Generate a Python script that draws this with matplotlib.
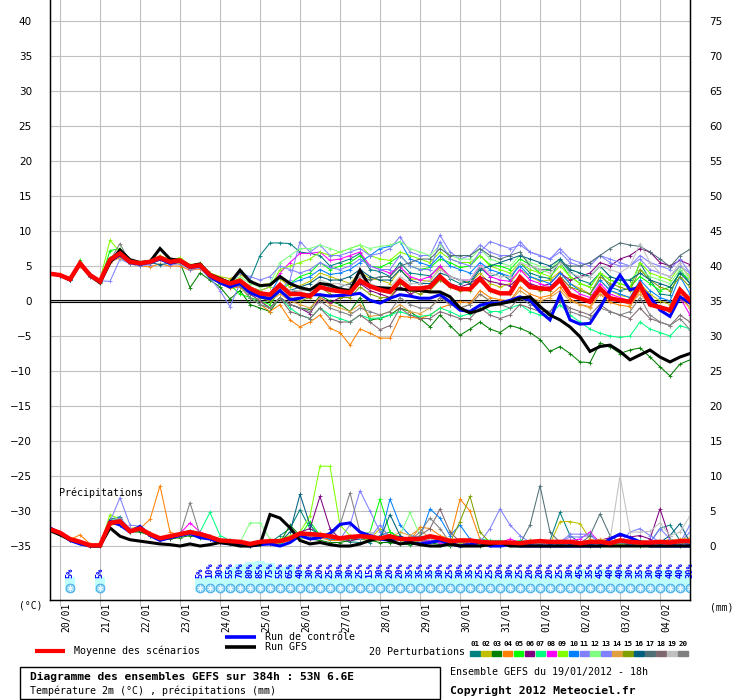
import matplotlib
matplotlib.use("Agg")
import matplotlib.pyplot as plt
import numpy as np
from matplotlib.lines import Line2D
from matplotlib.patches import Rectangle

# GEFS run of 19/01/2012 18h, one value every 6 hours up to 384h
lead_hours = np.arange(0, 385, 6)
date_labels = ["20/01", "21/01", "22/01", "23/01", "24/01", "25/01", "26/01", "27/01",
               "28/01", "29/01", "30/01", "31/01", "01/02", "02/02", "03/02", "04/02"]

member_names = ["01", "02", "03", "04", "05", "06", "07", "08", "09", "10",
                "11", "12", "13", "14", "15", "16", "17", "18", "19", "20"]
member_colors = ["#008080", "#c0c000", "#008000", "#ff8000", "#00ff00", "#800080", "#00ff80",
                 "#ff00ff", "#80ff00", "#0080ff", "#8080ff", "#80ff80", "#8080ff", "#e0a040",
                 "#80a000", "#006080", "#507078", "#806870", "#c0c0c0", "#808080"]

# 2m temperature (°C)
temp_mean = [3.9, 3.7, 3.1, 5.4, 3.7, 2.8, 5.9, 6.8, 5.6, 5.4, 5.6, 6.2, 5.6, 5.8, 4.9, 5.1,
             3.7, 3.0, 2.5, 2.9, 1.8, 1.1, 0.9, 2.3, 1.0, 1.0, 0.7, 2.0, 1.6, 1.4, 1.2, 2.9,
             2.1, 1.6, 1.3, 2.9, 1.8, 1.8, 2.0, 3.5, 2.2, 1.7, 1.7, 3.2, 1.6, 1.1, 1.1, 3.4,
             2.0, 1.8, 1.7, 3.0, 0.9, 0.4, -0.1, 1.8, 0.4, 0.1, -0.1, 2.3, -0.5, -0.9, -1.3, 1.6, 0.1]
temp_control = [3.9, 3.7, 3.0, 5.3, 3.8, 2.7, 5.7, 6.6, 5.5, 5.3, 5.5, 6.0, 5.4, 5.7, 4.8, 5.0,
                3.5, 2.6, 2.0, 2.5, 1.2, 0.6, 0.3, 1.5, 0.2, 0.4, 0.9, 0.9, 0.7, 0.8, 0.9, 1.1,
                0.1, -0.3, 0.4, 0.9, 0.7, 0.4, 0.4, 0.9, -0.1, -1.3, -1.5, -0.6, -0.3, -0.3, 0.1, 0.6,
                0.1, -1.5, -2.7, 0.9, -2.7, -3.3, -3.2, -1.0, 1.6, 3.7, 1.6, 2.0, 0.6, -1.3, -2.2, 0.6, -0.3]
temp_gfs = [3.9, 3.7, 3.0, 5.3, 3.6, 2.6, 5.5, 7.3, 5.9, 5.5, 5.6, 7.5, 6.0, 5.8, 5.0, 5.3,
            3.8, 3.2, 2.6, 4.4, 2.8, 2.2, 2.3, 3.5, 2.5, 1.9, 1.6, 2.5, 2.3, 1.7, 1.5, 4.4,
            2.0, 1.9, 1.8, 1.7, 1.6, 1.5, 1.3, 1.3, 0.6, -1.0, -1.7, -1.3, -0.6, -0.4, -0.1, 0.4,
            0.6, -0.8, -2.0, -2.7, -3.7, -5.1, -7.2, -6.5, -6.3, -7.2, -8.4, -7.7, -7.0, -8.0, -8.7, -8.0, -7.5]

t01 = [3.8, 3.6, 3.0, 5.2, 3.9, 3.0, 6.2, 7.0, 5.5, 5.6, 5.8, 6.0, 5.3, 5.5, 4.6, 4.8,
       3.2, 2.6, 2.2, 4.4, 3.0, 6.5, 8.3, 8.3, 8.2, 7.0, 6.8, 6.5, 5.0, 5.5, 6.0, 6.8,
       4.5, 4.2, 3.5, 5.5, 4.0, 3.8, 3.6, 5.0, 3.2, 2.5, 2.8, 4.8, 3.5, 4.0, 3.0, 5.5,
       4.0, 3.5, 3.2, 5.8, 4.2, 3.0, 2.5, 4.0, 2.0, 1.5, 1.8, 5.5, 3.0, 1.0, 0.8, 4.5, 2.5]
t02 = [3.9, 3.7, 3.2, 5.6, 3.8, 2.9, 6.1, 7.2, 5.8, 5.5, 5.7, 6.5, 5.9, 6.1, 5.2, 5.4,
       4.0, 3.5, 3.2, 3.8, 2.9, 2.3, 2.5, 3.2, 2.0, 2.2, 2.8, 4.0, 3.5, 3.0, 2.5, 4.2,
       3.2, 3.0, 2.5, 4.5, 3.2, 3.0, 2.8, 4.8, 3.5, 3.0, 2.6, 4.0, 2.5, 2.0, 2.5, 4.5,
       3.5, 2.8, 3.0, 4.2, 2.5, 1.8, 1.0, 3.0, 1.5, 0.8, 0.5, 2.5, 1.0, 0.0, -0.5, 1.5, 0.5]
t03 = [3.8, 3.6, 3.1, 5.3, 3.6, 2.6, 5.7, 6.6, 5.4, 5.2, 5.5, 6.0, 5.4, 5.5, 1.9, 4.0,
       3.0, 2.0, 0.3, 1.5, -0.5, -1.0, -1.5, 0.5, -0.5, -1.0, -1.2, 0.8, 0.0, -0.5, -1.5, 0.5,
       -2.7, -2.5, -2.0, -1.0, -1.5, -2.5, -3.7, -2.0, -3.5, -4.9, -4.0, -3.0, -4.0, -4.5, -3.5, -3.9,
       -4.5, -5.5, -7.2, -6.5, -7.5, -8.7, -8.8, -6.0, -6.5, -7.5, -7.0, -6.7, -8.0, -9.4, -10.7, -9.0, -8.4]
t04 = [3.9, 3.8, 3.4, 5.0, 3.5, 2.8, 5.6, 6.3, 5.3, 5.0, 4.9, 5.3, 5.0, 5.0, 4.4, 4.6,
       3.6, 2.5, 1.8, 2.0, 0.5, -0.5, -1.5, -0.5, -2.7, -3.7, -3.0, -2.0, -3.9, -4.5, -6.3, -4.0,
       -4.6, -5.3, -5.3, -2.2, -2.3, -2.5, -2.0, -1.0, -0.5, -0.1, -0.3, 1.5, 0.5, 0.2, 0.0, 2.0,
       1.0, 0.5, 0.8, 2.0, 0.3, -0.5, -0.8, 1.0, -0.2, -0.6, -0.8, 1.5, -0.5, -1.0, -1.5, 0.8, -1.0]
t05 = [3.9, 3.7, 3.0, 5.8, 3.8, 2.7, 7.2, 7.5, 5.7, 5.4, 5.6, 6.3, 5.7, 6.0, 5.0, 5.0,
       3.8, 2.5, 2.3, 1.0, 0.5, 0.0, -0.5, 1.5, 2.5, 3.5, 4.0, 5.5, 4.5, 5.0, 5.5, 6.5,
       5.0, 4.8, 5.5, 6.5, 5.0, 4.5, 4.8, 6.0, 5.5, 4.8, 5.0, 6.5, 5.2, 5.0, 4.5, 6.0,
       5.2, 4.0, 4.5, 5.5, 3.5, 2.5, 2.0, 4.0, 3.0, 2.5, 2.0, 3.5, 2.5, 1.5, 2.0, 4.0, 3.0]
t06 = [3.8, 3.6, 3.1, 5.4, 3.7, 2.9, 5.8, 6.7, 5.6, 5.4, 5.5, 6.1, 5.5, 5.7, 4.8, 5.0,
       3.5, 2.6, 2.0, 2.2, 1.0, 0.0, -1.0, 0.5, -0.5, -1.0, -1.8, 0.5, -0.3, 0.5, 1.0, 2.5,
       1.5, 1.0, 0.5, 2.0, 1.0, 1.5, 2.0, 3.0, 2.5, 2.0, 2.5, 3.5, 2.8, 2.5, 2.2, 3.5,
       2.5, 2.0, 2.5, 4.0, 3.0, 3.5, 4.0, 5.5, 5.0, 6.0, 6.5, 7.5, 7.0, 5.5, 5.0, 5.8, 5.2]
t07 = [3.9, 3.7, 3.2, 5.4, 3.5, 2.8, 6.0, 6.7, 5.5, 5.3, 5.4, 6.0, 5.4, 5.6, 4.8, 4.9,
       3.5, 2.8, 2.0, 2.3, 0.5, -0.5, -1.0, 0.5, -1.0, -2.0, -2.5, -1.0, -2.0, -2.5, -3.0, -2.0,
       -2.5, -2.4, -2.0, -1.5, -2.0, -2.2, -2.0, -1.0, -1.5, -2.2, -1.8, -0.5, -1.5, -1.5, -1.0, -0.5,
       -1.5, -2.0, -2.0, -0.5, -2.0, -3.0, -4.0, -4.6, -5.0, -5.2, -5.0, -3.0, -4.0, -4.5, -5.0, -3.5, -4.0]
t08 = [3.9, 3.7, 3.1, 5.4, 3.8, 2.9, 5.9, 6.9, 5.7, 5.5, 5.6, 6.3, 5.7, 5.9, 5.0, 5.2,
       3.8, 3.0, 2.5, 3.0, 2.0, 1.5, 2.0, 4.0, 5.5, 6.8, 6.8, 7.0, 5.8, 6.0, 6.5, 7.0,
       5.0, 4.5, 4.0, 4.9, 3.5, 3.0, 3.5, 5.0, 3.5, 3.0, 3.0, 5.1, 3.5, 3.0, 2.8, 4.5,
       3.0, 2.5, 2.0, 3.5, 2.0, 1.0, 0.5, 2.5, 1.0, 0.5, 0.0, 2.0, 0.0, -1.0, -1.5, 0.5, -2.0]
t09 = [4.0, 3.8, 3.2, 5.5, 3.9, 3.0, 8.7, 7.0, 5.9, 5.6, 5.8, 6.4, 5.8, 6.2, 5.1, 5.3,
       4.0, 3.3, 2.8, 3.2, 2.0, 1.5, 2.0, 4.5, 5.0, 5.5, 6.0, 7.0, 6.5, 7.0, 7.5, 8.0,
       6.5, 6.0, 5.8, 7.0, 6.5, 6.0, 5.5, 7.0, 6.0, 5.5, 5.5, 6.5, 5.0, 4.5, 4.0, 5.5,
       4.5, 4.0, 3.5, 5.0, 3.5, 2.5, 2.0, 4.0, 3.0, 2.5, 2.0, 5.5, 4.0, 3.5, 3.0, 5.0, 3.5]
t10 = [3.9, 3.6, 3.0, 5.3, 3.7, 2.8, 6.0, 6.9, 5.6, 5.4, 5.5, 6.2, 5.5, 5.7, 4.8, 5.0,
       3.6, 2.8, 2.3, 2.7, 1.5, 0.8, 1.0, 3.5, 2.5, 3.0, 3.5, 4.5, 3.8, 4.0, 4.5, 5.5,
       6.5, 7.5, 7.8, 8.5, 6.0, 5.5, 5.0, 6.5, 5.0, 4.5, 4.0, 5.5, 4.5, 4.0, 3.5, 5.0,
       3.5, 3.0, 2.5, 4.0, 2.5, 1.5, 1.0, 3.0, 1.5, 1.0, 0.5, 3.0, 1.5, 0.5, 0.0, 3.5, 1.0]
t11 = [3.8, 3.6, 3.0, 5.2, 3.5, 2.9, 2.8, 6.0, 5.3, 5.0, 5.2, 5.9, 5.2, 5.3, 4.5, 4.7,
       3.3, 1.5, -0.8, 2.5, 1.5, 0.5, 1.0, 1.5, 3.0, 8.5, 7.0, 8.0, 6.5, 6.5, 7.0, 7.5,
       6.5, 6.8, 7.5, 9.2, 7.0, 6.5, 6.5, 9.4, 7.0, 6.0, 6.5, 8.0, 7.0, 6.5, 6.5, 8.5,
       7.0, 6.5, 6.0, 7.5, 6.0, 5.5, 5.0, 6.5, 5.5, 5.0, 5.0, 6.0, 4.5, 4.0, 3.5, 5.0, 4.0]
t12 = [3.9, 3.7, 3.1, 5.5, 3.8, 2.9, 6.2, 7.1, 5.8, 5.6, 5.7, 6.3, 5.7, 6.0, 5.0, 5.2,
       3.8, 3.2, 2.8, 3.5, 2.5, 2.0, 2.5, 5.5, 6.5, 7.5, 7.5, 8.0, 7.5, 7.0, 7.5, 8.0,
       7.5, 7.8, 8.0, 8.5, 7.5, 7.0, 6.5, 8.0, 6.5, 6.0, 6.0, 7.5, 6.0, 5.5, 5.0, 6.5,
       5.5, 5.0, 4.5, 6.0, 4.5, 4.0, 3.5, 5.0, 3.5, 3.0, 3.0, 4.5, 3.5, 3.0, 2.5, 4.5, 3.0]
t13 = [3.9, 3.7, 3.2, 5.4, 3.6, 2.7, 5.7, 6.6, 5.4, 5.2, 5.4, 6.0, 5.4, 5.6, 4.7, 4.9,
       3.4, 2.6, 2.5, 4.0, 3.5, 3.0, 3.5, 5.0, 4.5, 4.0, 4.5, 5.5, 4.8, 4.5, 5.0, 6.0,
       5.0, 4.5, 4.5, 6.5, 5.0, 4.5, 4.5, 8.5, 6.0, 5.5, 5.0, 7.0, 8.5, 8.0, 7.5, 8.0,
       7.0, 6.5, 6.0, 7.0, 5.5, 5.0, 5.5, 6.5, 6.0, 5.5, 5.0, 6.5, 5.5, 5.0, 4.5, 6.0, 4.0]
t14 = [4.0, 3.8, 3.2, 5.0, 3.8, 2.9, 5.5, 6.2, 5.4, 5.3, 5.4, 5.8, 5.4, 5.4, 4.7, 4.8,
       3.4, 2.8, 2.5, 3.0, 1.5, 0.5, 0.0, 1.0, 0.0, -0.5, -1.0, 0.5, -0.5, -1.0, -1.5, -0.5,
       -2.2, -2.0, -1.5, -0.5, -1.5, -1.8, -1.0, 0.5, -0.5, -1.0, -0.5, 1.0, 0.0, -0.5, 0.0, 1.5,
       0.5, 0.0, 0.5, 1.5, 0.0, -0.5, -1.0, 1.0, 0.5, 0.0, -0.5, 1.0, -0.5, -1.0, -1.5, 0.5, -1.0]
t15 = [3.9, 3.7, 3.1, 5.4, 3.7, 2.8, 6.0, 6.8, 5.6, 5.4, 5.6, 6.2, 5.6, 5.8, 4.9, 5.1,
       3.7, 3.0, 2.3, 2.5, 1.2, 0.5, 0.0, 1.5, 0.5, 0.0, 0.5, 2.0, 1.0, 0.5, 0.5, 2.0,
       1.0, 0.5, 0.5, 2.5, 1.5, 1.0, 1.5, 3.0, 2.0, 1.5, 1.5, 3.0, 1.5, 1.0, 1.0, 3.0,
       2.0, 1.5, 1.5, 3.5, 2.0, 1.5, 1.0, 3.5, 2.5, 2.0, 1.5, 4.5, 3.0, 2.0, 1.5, 3.5, 2.0]
t16 = [3.8, 3.6, 3.0, 5.3, 3.6, 2.7, 5.8, 6.6, 5.4, 5.2, 5.5, 5.2, 5.4, 5.6, 4.8, 5.0,
       3.4, 2.6, 2.2, 2.8, 1.5, 0.8, 0.5, 2.0, 1.5, 2.0, 2.5, 3.5, 3.0, 3.0, 3.5, 4.5,
       3.5, 3.0, 3.0, 4.5, 3.0, 2.5, 2.5, 4.0, 3.5, 3.0, 2.5, 4.5, 5.0, 5.5, 6.0, 6.5,
       6.0, 5.5, 5.0, 6.0, 4.5, 4.0, 3.5, 5.0, 3.5, 3.0, 3.0, 4.0, 3.0, 2.5, 2.0, 4.0, 2.5]
t17 = [3.9, 3.7, 3.1, 5.3, 3.7, 2.8, 5.9, 6.8, 5.6, 5.4, 5.5, 6.1, 5.5, 5.7, 4.8, 5.0,
       3.6, 2.9, 2.4, 2.8, 1.7, 1.0, 0.8, 2.2, 1.5, 1.2, 1.0, 2.5, 2.0, 2.0, 2.5, 3.5,
       3.0, 3.5, 3.5, 5.0, 5.5, 6.0, 6.0, 7.5, 6.5, 6.5, 6.5, 7.5, 6.5, 6.0, 6.5, 7.0,
       5.0, 4.5, 4.5, 5.5, 5.0, 5.0, 5.5, 6.5, 7.5, 8.3, 8.0, 7.8, 7.0, 6.0, 4.9, 6.5, 7.4]
t18 = [3.9, 3.7, 3.1, 5.4, 3.7, 2.8, 5.9, 6.7, 5.6, 5.3, 5.5, 6.1, 5.5, 5.7, 4.8, 5.0,
       3.5, 2.8, 2.2, 2.5, 1.0, 0.0, -1.0, 0.5, -1.5, -2.0, -2.5, -1.0, -2.5, -3.0, -3.0, -2.0,
       -3.0, -4.1, -3.5, -1.0, -2.0, -2.5, -2.5, -1.5, -2.0, -2.5, -2.5, -1.0, -2.0, -2.5, -2.0, -0.5,
       -1.0, -1.5, -1.5, 0.0, -1.0, -1.5, -2.0, -0.5, -1.5, -2.0, -2.5, -1.0, -2.5, -3.0, -3.5, -2.0, -3.0]
t19 = [3.9, 3.7, 3.1, 5.4, 3.7, 2.8, 5.9, 6.8, 5.6, 5.4, 5.6, 6.2, 5.6, 5.8, 4.9, 5.1,
       3.7, 3.0, 2.5, 3.0, 1.8, 1.2, 1.0, 2.5, 1.5, 1.5, 1.5, 3.0, 2.5, 2.5, 2.0, 3.5,
       2.5, 2.0, 2.0, 3.5, 2.5, 2.5, 3.0, 4.5, 3.5, 3.0, 3.0, 5.0, 4.0, 3.5, 3.5, 5.5,
       5.0, 4.5, 4.0, 5.5, 4.0, 3.5, 3.5, 5.0, 4.5, 4.0, 5.0, 8.2, 5.5, 4.0, 3.5, 5.5, 3.0]
t20 = [3.9, 3.7, 3.1, 5.3, 3.6, 2.7, 5.8, 8.2, 5.5, 5.4, 5.5, 6.1, 5.5, 5.7, 4.8, 5.0,
       3.4, 2.7, 2.0, 2.2, 0.5, -0.5, -1.0, 0.5, -0.5, -1.0, -1.5, 0.0, -1.0, -1.5, -2.0, -1.0,
       -1.5, -2.0, -1.5, 0.5, -0.5, -1.0, -1.0, 0.5, -0.5, -1.0, -0.5, 1.0, 0.0, -0.5, -1.0, 0.5,
       -0.5, -1.0, -1.5, 0.5, -1.5, -2.0, -2.5, -1.0, -1.5, -2.0, -1.5, 0.5, -2.0, -3.0, -3.5, -2.5, -4.1]

# precipitation (mm per step)
rain_mean = [2.4, 1.9, 1.0, 0.6, 0.1, 0.1, 3.3, 3.5, 2.1, 2.5, 1.7, 1.1, 1.4, 1.7, 2.0, 1.7,
             1.3, 0.8, 0.7, 0.6, 0.3, 0.6, 0.7, 0.7, 1.1, 1.8, 1.7, 1.6, 1.4, 1.1, 1.3, 1.4,
             1.3, 1.1, 1.4, 1.0, 1.0, 1.0, 1.4, 1.1, 0.7, 0.8, 0.8, 0.6, 0.5, 0.5, 0.5, 0.4,
             0.6, 0.7, 0.6, 0.6, 0.6, 0.4, 0.6, 0.6, 0.4, 0.8, 0.6, 0.5, 0.5, 0.6, 0.5, 0.7, 0.7]
rain_control = [2.6, 1.8, 0.8, 0.3, 0.0, 0.0, 3.5, 3.0, 2.0, 2.8, 1.5, 0.8, 1.2, 1.5, 1.8, 1.2,
                1.0, 0.5, 0.3, 0.2, 0.0, 0.2, 0.3, 0.0, 0.5, 1.5, 1.0, 1.2, 1.8, 3.1, 3.3, 2.0,
                1.5, 1.0, 0.8, 1.2, 0.5, 0.3, 0.5, 0.8, 0.3, 0.0, 0.2, 0.5, 0.0, 0.0, 0.2, 0.0,
                0.0, 0.0, 0.0, 0.0, 0.0, 0.0, 0.0, 0.0, 1.0, 1.7, 1.2, 0.6, 0.0, 0.0, 0.0, 0.0, 0.0]
rain_gfs = [2.2, 1.6, 0.9, 0.6, 0.0, 0.0, 2.6, 1.4, 0.9, 0.7, 0.5, 0.3, 0.2, 0.0, 0.3, 0.0,
            0.2, 0.5, 0.3, 0.0, 0.0, 0.2, 4.5, 4.0, 2.6, 0.8, 0.3, 0.5, 0.2, 0.0, 0.0, 0.3,
            0.8, 1.2, 0.8, 0.3, 0.5, 0.2, 0.0, 0.0, 0.3, 0.0, 0.0, 0.0, 0.2, 0.5, 0.0, 0.0,
            0.0, 0.0, 0.0, 0.0, 0.0, 0.0, 0.0, 0.0, 0.0, 0.0, 0.0, 0.0, 0.0, 0.0, 0.0, 0.0, 0.0]

r01 = [2.5, 1.7, 0.8, 0.4, 0.0, 0.0, 3.8, 4.2, 2.0, 2.2, 1.5, 1.0, 1.2, 1.5, 2.2, 1.5,
       1.0, 0.5, 0.8, 0.5, 0.0, 0.3, 0.5, 1.5, 2.5, 5.2, 2.5, 1.5, 1.0, 0.8, 0.6, 0.5,
       0.5, 1.5, 2.0, 1.2, 0.5, 0.3, 0.8, 0.5, 0.2, 0.0, 0.3, 0.5, 0.2, 0.0, 0.3, 0.2,
       0.5, 0.2, 0.8, 4.8, 1.5, 0.5, 0.2, 0.5, 0.3, 0.5, 0.5, 0.2, 0.5, 2.5, 3.0, 0.8, 0.5]
r02 = [2.4, 1.9, 0.9, 0.5, 0.0, 0.0, 3.0, 3.5, 2.5, 2.8, 1.8, 1.2, 1.5, 1.8, 2.0, 1.8,
       1.5, 0.8, 0.5, 0.5, 0.3, 0.5, 0.8, 0.5, 0.8, 1.2, 1.0, 1.8, 1.5, 1.2, 1.0, 1.5,
       1.0, 2.5, 1.5, 0.8, 0.5, 0.5, 0.8, 1.0, 0.5, 0.3, 0.5, 0.8, 0.5, 0.3, 0.2, 0.5,
       0.3, 0.5, 0.3, 3.5, 3.5, 3.2, 1.0, 0.5, 0.3, 0.2, 0.5, 0.3, 0.5, 0.3, 0.5, 0.8, 0.5]
r03 = [2.5, 1.8, 1.0, 0.4, 0.0, 0.0, 3.2, 3.0, 2.0, 2.0, 1.5, 0.8, 1.0, 1.2, 1.5, 1.2,
       1.0, 0.5, 0.3, 0.2, 0.0, 0.2, 0.3, 0.5, 3.0, 1.5, 1.0, 0.8, 0.5, 0.5, 0.8, 1.0,
       0.8, 0.5, 0.5, 0.3, 0.2, 0.3, 0.5, 0.2, 0.0, 0.2, 0.3, 0.0, 0.2, 0.0, 0.3, 0.5,
       0.2, 0.0, 0.0, 0.2, 0.5, 0.3, 0.0, 0.0, 0.2, 0.0, 0.3, 0.0, 0.2, 0.5, 0.3, 0.0, 0.2]
r04 = [2.6, 1.9, 0.9, 1.6, 0.3, 0.0, 3.5, 3.8, 2.3, 2.5, 3.8, 8.6, 2.0, 1.5, 1.8, 1.5,
       1.0, 0.5, 0.5, 0.5, 0.3, 0.5, 0.5, 0.3, 0.8, 1.5, 1.0, 1.2, 0.8, 0.8, 1.0, 1.5,
       1.0, 0.8, 1.5, 1.0, 0.8, 2.7, 2.5, 1.5, 1.0, 6.7, 5.0, 1.0, 0.5, 0.5, 0.3, 0.5,
       0.3, 0.5, 0.3, 0.5, 0.3, 0.5, 0.8, 0.5, 0.3, 1.0, 0.8, 0.5, 0.3, 0.5, 1.0, 0.5, 1.0]
r05 = [2.5, 1.8, 0.8, 0.4, 0.0, 0.0, 3.3, 3.5, 2.2, 2.4, 1.6, 1.0, 1.3, 1.6, 2.0, 1.6,
       1.2, 0.6, 0.5, 0.4, 0.2, 0.5, 0.6, 0.5, 1.0, 1.5, 3.5, 1.5, 1.2, 1.0, 1.0, 1.5,
       2.0, 6.7, 2.0, 1.2, 0.8, 0.5, 0.8, 0.5, 0.5, 0.8, 0.5, 0.3, 0.5, 0.3, 0.5, 0.3,
       0.8, 0.5, 0.3, 0.5, 0.3, 0.3, 0.5, 0.3, 0.5, 0.3, 0.5, 0.5, 0.3, 0.5, 0.3, 0.5, 0.3]
r06 = [2.4, 1.8, 0.9, 0.4, 0.0, 0.0, 3.4, 3.6, 2.1, 2.3, 1.5, 1.0, 1.2, 1.4, 1.8, 1.5,
       1.0, 0.6, 0.5, 0.5, 0.2, 0.4, 0.5, 0.8, 1.2, 2.0, 2.5, 7.1, 2.5, 1.0, 0.8, 1.0,
       1.0, 0.8, 1.0, 0.8, 0.8, 0.5, 1.0, 0.8, 0.5, 0.5, 0.3, 0.5, 0.3, 0.5, 0.3, 0.5,
       0.5, 0.3, 0.5, 0.3, 0.5, 0.5, 0.3, 0.8, 1.2, 1.5, 1.3, 1.5, 1.0, 5.3, 1.0, 0.5, 1.0]
r07 = [2.5, 1.8, 0.9, 0.5, 0.0, 0.0, 3.6, 3.9, 2.3, 2.6, 1.7, 1.1, 1.5, 1.7, 2.2, 2.0,
       4.8, 1.5, 0.8, 0.5, 0.3, 0.5, 0.8, 0.5, 1.0, 1.2, 2.0, 1.5, 1.0, 1.0, 1.5, 1.0,
       1.5, 1.0, 1.2, 0.8, 0.5, 0.5, 0.8, 0.5, 0.3, 0.5, 0.5, 1.0, 0.8, 0.8, 0.5, 0.8,
       0.5, 0.8, 0.5, 0.3, 0.5, 0.5, 0.3, 0.5, 0.3, 0.5, 0.3, 0.8, 0.5, 0.3, 0.5, 0.3, 0.5]
r08 = [2.5, 1.9, 1.0, 0.5, 0.0, 0.0, 3.5, 3.7, 2.4, 2.5, 1.6, 1.2, 1.5, 1.8, 3.3, 2.0,
       1.5, 0.8, 0.6, 0.5, 0.3, 0.5, 0.5, 0.8, 1.0, 1.5, 1.8, 1.5, 1.3, 1.0, 1.2, 1.5,
       1.2, 1.0, 1.0, 0.8, 0.8, 0.5, 0.8, 0.5, 0.3, 0.5, 0.5, 0.8, 0.5, 0.5, 1.0, 0.5,
       0.5, 0.8, 0.5, 0.5, 0.8, 1.0, 2.0, 0.5, 0.3, 0.5, 0.3, 0.5, 0.3, 0.5, 0.3, 0.5, 0.3]
r09 = [2.6, 1.9, 0.9, 0.5, 0.1, 0.0, 4.5, 3.8, 2.2, 2.5, 1.8, 1.2, 1.5, 1.7, 2.0, 1.6,
       1.2, 0.7, 0.6, 0.5, 0.3, 0.5, 0.8, 1.0, 1.5, 2.0, 4.3, 11.4, 11.4, 3.0, 1.5, 1.0,
       1.0, 0.8, 1.0, 0.8, 0.8, 0.5, 0.5, 0.8, 0.5, 0.5, 0.5, 0.3, 0.5, 0.3, 0.5, 0.3,
       0.5, 0.3, 0.5, 0.3, 0.5, 0.3, 0.5, 0.8, 0.5, 0.3, 0.5, 0.3, 0.5, 0.3, 0.5, 0.3, 0.5]
r10 = [2.5, 1.8, 0.9, 0.4, 0.0, 0.0, 3.4, 3.7, 2.2, 2.4, 1.6, 1.0, 1.4, 1.6, 2.0, 1.5,
       1.2, 0.6, 0.6, 0.5, 0.2, 0.5, 0.6, 0.6, 1.0, 1.5, 1.5, 1.3, 1.0, 1.0, 1.2, 1.0,
       1.5, 1.0, 6.7, 3.0, 1.5, 1.2, 5.3, 4.0, 1.5, 3.0, 1.0, 0.5, 0.3, 0.5, 0.3, 0.5,
       0.3, 0.5, 0.3, 0.5, 0.3, 0.5, 0.3, 0.5, 0.3, 0.5, 0.3, 0.5, 0.3, 0.5, 0.3, 0.5, 0.3]
r11 = [2.4, 1.8, 0.8, 0.4, 0.0, 0.0, 3.5, 6.9, 3.0, 2.8, 1.8, 1.2, 1.5, 1.8, 2.2, 1.8,
       1.3, 0.8, 0.6, 0.5, 0.3, 0.5, 0.6, 0.6, 1.0, 1.5, 1.5, 1.4, 1.2, 1.0, 3.0, 7.9,
       5.0, 2.0, 1.5, 1.0, 0.8, 0.8, 1.0, 0.8, 0.5, 0.6, 0.6, 0.5, 2.5, 5.3, 3.0, 1.5,
       0.5, 0.5, 0.8, 0.5, 1.3, 1.3, 1.5, 0.5, 0.5, 0.5, 0.5, 0.4, 0.4, 2.5, 1.0, 0.5, 3.0]
r12 = [2.5, 1.8, 0.9, 0.4, 0.0, 0.0, 3.4, 3.6, 2.1, 2.4, 1.5, 1.0, 1.4, 1.5, 1.9, 1.5,
       1.2, 0.7, 0.6, 0.5, 3.3, 3.3, 1.0, 0.8, 1.0, 1.2, 1.5, 1.4, 1.2, 1.0, 1.2, 1.2,
       1.2, 1.0, 1.2, 1.5, 4.8, 1.5, 1.0, 0.8, 0.5, 0.6, 0.6, 0.5, 0.4, 0.4, 0.4, 0.3,
       0.5, 0.5, 0.4, 0.5, 0.5, 0.3, 0.5, 0.5, 0.3, 0.5, 0.5, 0.4, 0.4, 0.5, 0.4, 0.5, 0.5]
r13 = [2.5, 1.8, 0.9, 0.4, 0.0, 0.0, 3.5, 4.0, 2.5, 2.5, 1.6, 1.0, 1.4, 1.6, 2.0, 1.6,
       1.2, 0.7, 0.6, 0.5, 0.2, 0.5, 0.6, 0.6, 1.0, 1.5, 1.5, 1.4, 1.2, 1.0, 1.2, 1.2,
       1.2, 3.0, 1.2, 0.9, 0.8, 0.8, 1.0, 0.8, 0.5, 0.6, 0.6, 0.5, 0.4, 0.4, 0.4, 0.3,
       0.5, 0.5, 0.4, 0.5, 1.7, 1.7, 1.7, 0.5, 0.3, 0.5, 2.0, 2.5, 1.5, 0.5, 0.4, 0.5, 2.0]
r14 = [2.6, 1.9, 1.0, 0.5, 0.1, 0.0, 3.6, 3.8, 2.2, 2.5, 1.6, 1.0, 1.4, 1.6, 2.0, 1.6,
       1.2, 0.7, 0.6, 0.5, 0.2, 0.5, 0.6, 0.6, 1.0, 1.5, 1.5, 1.4, 1.2, 1.0, 1.2, 1.2,
       1.2, 1.0, 1.2, 2.0, 1.5, 2.5, 1.0, 0.8, 0.5, 0.6, 0.6, 0.5, 0.4, 0.4, 0.4, 0.3,
       0.5, 0.5, 0.4, 0.5, 0.5, 0.3, 0.5, 1.0, 0.8, 0.5, 0.5, 0.4, 0.4, 0.5, 0.8, 1.0, 1.2]
r15 = [2.5, 1.8, 0.9, 0.4, 0.0, 0.0, 3.5, 3.8, 2.2, 2.5, 1.6, 1.0, 1.4, 1.6, 2.0, 1.6,
       1.2, 0.7, 0.6, 0.5, 0.2, 0.5, 0.6, 0.6, 1.0, 1.5, 1.5, 1.4, 1.2, 1.0, 1.2, 1.2,
       1.2, 1.0, 1.2, 0.9, 0.8, 0.8, 1.0, 0.8, 0.5, 3.5, 7.1, 2.0, 0.5, 0.4, 0.4, 0.3,
       0.5, 0.5, 0.4, 0.5, 0.5, 0.3, 0.5, 0.5, 0.3, 0.5, 0.5, 0.4, 0.4, 0.5, 0.4, 0.5, 0.5]
r16 = [2.5, 1.8, 0.9, 0.4, 0.0, 0.0, 3.5, 3.8, 2.2, 2.5, 1.6, 1.0, 1.4, 1.6, 2.0, 1.6,
       1.2, 0.7, 0.6, 0.5, 0.2, 0.5, 0.6, 0.6, 2.0, 7.4, 3.0, 1.4, 1.2, 1.0, 1.2, 1.2,
       1.2, 1.0, 4.5, 1.5, 0.8, 0.8, 1.0, 0.8, 0.5, 0.6, 0.6, 0.5, 0.4, 0.4, 0.4, 0.3,
       0.5, 0.5, 0.4, 0.5, 0.5, 0.3, 0.5, 0.5, 0.3, 0.5, 0.5, 0.4, 0.4, 0.5, 1.5, 3.2, 0.5]
r17 = [2.5, 1.8, 0.9, 0.4, 0.0, 0.0, 3.5, 3.8, 2.2, 2.5, 1.6, 1.0, 1.4, 1.6, 2.0, 1.6,
       1.2, 0.7, 0.6, 0.5, 0.2, 0.5, 0.6, 0.6, 1.0, 1.5, 1.5, 1.4, 1.2, 1.0, 1.2, 1.2,
       1.2, 1.0, 1.2, 0.9, 0.8, 0.8, 1.0, 0.8, 0.5, 0.6, 0.6, 0.5, 0.4, 0.4, 0.4, 0.3,
       3.0, 8.6, 2.0, 0.5, 0.5, 0.3, 1.5, 4.6, 1.5, 0.5, 0.5, 0.4, 0.4, 0.5, 0.4, 0.5, 0.5]
r18 = [2.5, 1.8, 0.9, 0.4, 0.0, 0.0, 3.5, 3.8, 2.2, 2.5, 1.6, 1.0, 1.4, 1.6, 2.0, 1.6,
       1.2, 0.7, 0.6, 0.5, 0.2, 0.5, 0.6, 0.6, 1.0, 1.5, 1.5, 1.4, 1.2, 1.0, 1.2, 1.2,
       1.2, 1.0, 1.2, 0.9, 0.8, 1.5, 2.5, 5.3, 2.0, 0.6, 0.6, 0.5, 0.4, 0.4, 0.4, 0.3,
       0.5, 0.5, 0.4, 0.5, 0.5, 0.3, 0.5, 0.5, 0.3, 0.5, 0.5, 0.4, 0.4, 0.5, 0.4, 0.5, 0.5]
r19 = [2.5, 1.8, 0.9, 0.4, 0.0, 0.0, 3.5, 3.8, 2.2, 2.5, 1.6, 1.0, 1.4, 1.6, 2.0, 1.6,
       1.2, 0.7, 0.6, 0.5, 0.2, 0.5, 0.6, 0.6, 1.0, 1.5, 1.5, 1.4, 1.2, 1.0, 1.2, 1.2,
       2.0, 1.0, 1.2, 0.9, 0.8, 0.8, 1.0, 0.8, 0.5, 0.6, 0.6, 0.5, 0.4, 0.4, 0.4, 0.3,
       0.5, 0.5, 0.4, 0.5, 0.5, 0.3, 0.5, 0.5, 0.8, 10.0, 2.0, 2.0, 2.1, 3.3, 1.5, 2.0, 4.3]
r20 = [2.5, 1.8, 0.9, 0.4, 0.0, 0.0, 3.5, 3.8, 2.2, 2.5, 1.6, 1.0, 1.4, 1.6, 6.2, 1.6,
       1.2, 0.7, 0.6, 0.5, 0.2, 0.5, 0.6, 0.6, 1.0, 1.5, 1.5, 1.4, 1.2, 3.0, 7.6, 2.0,
       1.2, 1.0, 1.2, 0.9, 0.8, 2.0, 4.0, 2.5, 0.5, 0.6, 0.6, 0.5, 0.4, 0.4, 0.4, 0.3,
       0.5, 0.5, 0.4, 0.5, 0.5, 0.3, 0.5, 0.5, 0.3, 0.5, 0.5, 0.4, 0.4, 0.5, 0.4, 0.5, 0.5]

# snow probability (%) per step, None = no snow sign
snow_pct = [None, None, 5, None, None, 5, None, None, None, None, None, None, None, None, None,
            5, 10, 30, 55, 70, 80, 85, 75, 55, 65, 40, 30, 20, 25, 30, 30, 25, 15, 30, 20,
            20, 35, 35, 35, 30, 25, 30, 35, 25, 25, 20, 30, 25, 20, 20, 20, 25, 30, 45, 35,
            45, 40, 40, 30, 35, 30, 40, 40, 40, 30]

temp_members = [t01, t02, t03, t04, t05, t06, t07, t08, t09, t10,
                t11, t12, t13, t14, t15, t16, t17, t18, t19, t20]
rain_members = [r01, r02, r03, r04, r05, r06, r07, r08, r09, r10,
                r11, r12, r13, r14, r15, r16, r17, r18, r19, r20]

PRECIP_OFFSET = 35  # 0 mm is drawn at -35 on the °C scale
W, H = 740, 700
MONO = "DejaVu Sans Mono"


def fx(px):
    return px / W


def fy(py):
    return 1 - py / H


x = -0.25 + lead_hours / 24.0  # days since 20/01 00h

fig = plt.figure(figsize=(W / 100, H / 100), dpi=100)
ax = fig.add_axes([fx(50), fy(600), fx(640), 600 / H])
ax.set_xlim(-0.25, 15.75)
ax.set_ylim(-42.71, 43.0)

ax.set_xticks(range(len(date_labels)))
ax.set_xticklabels([])
ax.tick_params(axis="x", length=4, width=0.8, color="#c0c0c0")
ax.set_yticks(range(-35, 45, 5))
ax.tick_params(axis="y", length=0, pad=13, labelsize=7.5)
ax.grid(True, color="#c0c0c0", linewidth=0.8, zorder=0)
ax.set_axisbelow(True)
for side in ("left", "right", "bottom"):
    ax.spines[side].set_linewidth(1.0)
ax.spines["top"].set_visible(False)

ax2 = ax.twinx()
ax2.set_ylim(-42.71 + PRECIP_OFFSET, 43.0 + PRECIP_OFFSET)
ax2.set_yticks(range(0, 80, 5))
ax2.tick_params(axis="y", length=0, pad=14, labelsize=7.5)
ax2.spines["top"].set_visible(False)

# 0 °C double line
ax.axhline(0.15, color="black", lw=0.8, zorder=1.5)
ax.axhline(-0.15, color="black", lw=0.8, zorder=1.5)

# snow probability strip
snow = np.array([np.nan if v is None else v for v in snow_pct], dtype=float)
has_snow = ~np.isnan(snow)
ax.bar(x[has_snow], 2.03 + snow[has_snow] * 0.0286, bottom=-41.6, width=0.25,
       color="#c0ffff", linewidth=0, zorder=1.2)
ax.scatter(x[has_snow], np.full(has_snow.sum(), -41.0), s=40, c="#8fd3f5",
           edgecolors="#3aa0e0", linewidths=0.6, zorder=4)
ax.scatter(x[has_snow], np.full(has_snow.sum(), -41.0), s=16, marker=(6, 2, 0),
           c="#e8f8ff", linewidths=0.6, zorder=4.5)
for xi, p in zip(x[has_snow], snow[has_snow]):
    ax.text(xi, -39.5, f"{p:.0f}%", rotation=90, ha="center", va="bottom",
            fontsize=6.2, fontweight="bold", family=MONO, color="#0000ff", zorder=5)

# members
for t, r, c in zip(temp_members, rain_members, member_colors):
    ax.plot(x, t, color=c, lw=0.75, marker="+", ms=2.5, mew=0.6, zorder=3)
    ax.plot(x, np.array(r) - PRECIP_OFFSET, color=c, lw=0.75, marker="+", ms=2.5, mew=0.6, zorder=3)

for t, c, lw in ((temp_control, "#0000ff", 2.2), (temp_gfs, "black", 2.2), (temp_mean, "#ff0000", 3.2)):
    ax.plot(x, t, color=c, lw=lw, zorder=6, solid_joinstyle="miter")
for r, c, lw in ((rain_control, "#0000ff", 2.2), (rain_gfs, "black", 2.2), (rain_mean, "#ff0000", 3.2)):
    ax.plot(x, np.array(r) - PRECIP_OFFSET, color=c, lw=lw, zorder=6, solid_joinstyle="miter")

ax.text(-0.03, -27.4, "Précipitations", family=MONO, fontsize=7.2, va="center", ha="left")

# date labels under the frame
for d, lbl in enumerate(date_labels):
    ax.text(d + 0.17, -43.14, lbl, rotation=90, ha="center", va="top", family=MONO,
            fontsize=7, clip_on=False)
fig.text(fx(31), fy(606), "(°C)", family=MONO, fontsize=7, ha="center", va="center")
fig.text(fx(722), fy(607), "(mm)", family=MONO, fontsize=7, ha="center", va="center")

# legend
legend_lines = [((225, 256), 637, "#0000ff", 2.6, "Run de contrôle"),
                ((225, 256), 647, "black", 2.6, "Run GFS"),
                ((35, 65), 651, "#ff0000", 3.0, "Moyenne des scénarios")]
for (x0, x1), yy, c, lw, lbl in legend_lines:
    fig.add_artist(Line2D([fx(x0), fx(x1)], [fy(yy), fy(yy)], color=c, lw=lw,
                          solid_capstyle="butt", transform=fig.transFigure))
    fig.text(fx(x1 + 9), fy(yy), lbl, family=MONO, fontsize=7.2, va="center", ha="left")

fig.text(fx(369), fy(652), "20 Perturbations", family=MONO, fontsize=7.2, va="center", ha="left")
for k, (name, c) in enumerate(zip(member_names, member_colors)):
    bx = 470 + k * 10.95
    fig.add_artist(Rectangle((fx(bx), fy(656)), fx(9.6), 5.5 / H, color=c,
                             transform=fig.transFigure))
    fig.text(fx(bx + 4.8), fy(644), name, family=MONO, fontsize=5.4, fontweight="bold",
             ha="center", va="center")

# title box
fig.add_artist(Rectangle((fx(20), fy(699)), fx(420), 32 / H, fill=False, ec="black",
                         lw=1.0, transform=fig.transFigure))
fig.text(fx(30), fy(677), "Diagramme des ensembles GEFS sur 384h : 53N 6.6E", family=MONO,
         fontsize=8.1, fontweight="bold", va="center", ha="left")
fig.text(fx(30), fy(691), "Température 2m (°C) , précipitations (mm)", family=MONO,
         fontsize=7.2, va="center", ha="left")
fig.text(fx(450), fy(672), "Ensemble GEFS du 19/01/2012 - 18h", family=MONO,
         fontsize=7.2, va="center", ha="left")
fig.text(fx(450), fy(691), "Copyright 2012 Meteociel.fr", family=MONO,
         fontsize=8.2, fontweight="bold", va="center", ha="left")

fig.savefig("out.png", dpi=100)
